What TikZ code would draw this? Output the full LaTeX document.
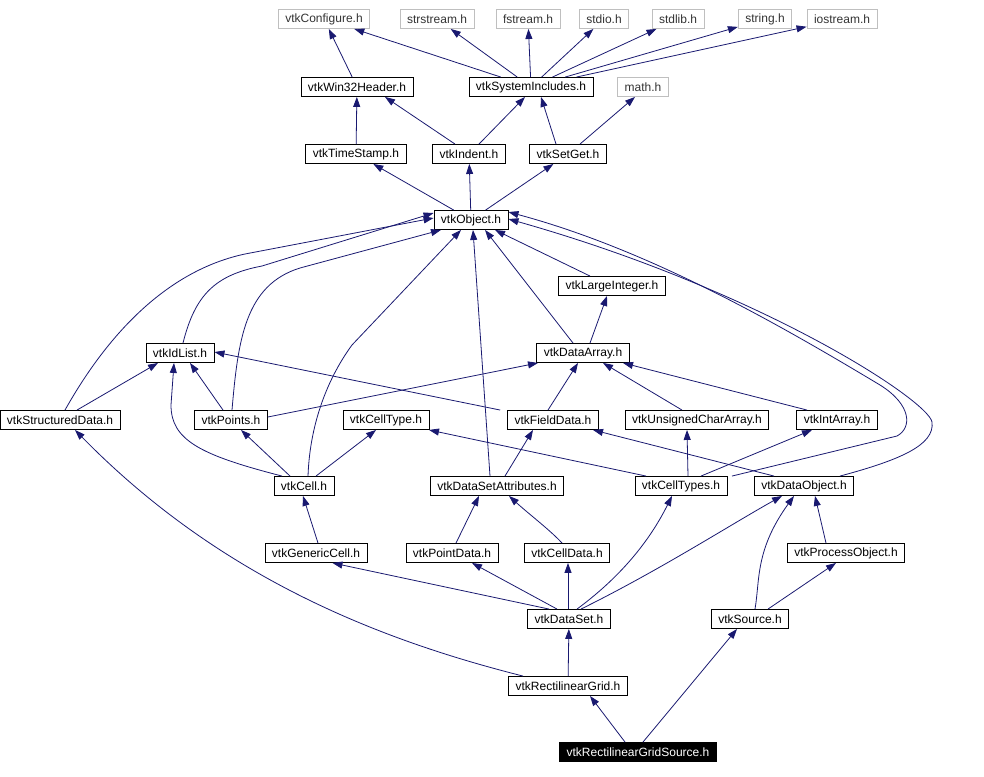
\documentclass[tikz,border=0pt]{standalone}
\usepackage{fontspec}
\setmainfont{Liberation Sans}
\usetikzlibrary{arrows.meta}

\definecolor{edgeblue}{RGB}{25,25,112}
\definecolor{sysgray}{RGB}{191,191,191}

\tikzset{
  hdr/.style={draw=black, line width=0.9pt, minimum height=19pt, inner xsep=7pt, inner ysep=0pt, font=\fontsize{12}{13}\selectfont},
  syshdr/.style={hdr, draw=sysgray, text=black!80},
  focus/.style={hdr, fill=black, text=white},
  dep/.style={->, draw=edgeblue, line width=0.8pt},
}

\begin{document}
\begin{tikzpicture}[x=1pt, y=-1pt, >={Triangle[length=10pt,width=7pt]}]
  \useasboundingbox (0,0) rectangle (984,776);

  % --- Systemheader ---
  \node[syshdr] (cfg)    at (324,19) {vtkConfigure.h};
  \node[syshdr] (strs)   at (437,19) {strstream.h};
  \node[syshdr] (fstr)   at (528,19) {fstream.h};
  \node[syshdr] (stdio)  at (604,19) {stdio.h};
  \node[syshdr] (stdlib) at (678,19) {stdlib.h};
  \node[syshdr] (string) at (765,19) {string.h};
  \node[syshdr] (iostr)  at (842,19) {iostream.h};

  % --- Basis ---
  \node[hdr]    (win)    at (357,87)  {vtkWin32Header.h};
  \node[hdr]    (sysinc) at (531,87)  {vtkSystemIncludes.h};
  \node[syshdr] (math)   at (643,87)  {math.h};
  \node[hdr]    (ts)     at (356,154) {vtkTimeStamp.h};
  \node[hdr]    (ind)    at (469,154) {vtkIndent.h};
  \node[hdr]    (setget) at (568,154) {vtkSetGet.h};
  \node[hdr]    (obj)    at (471,220) {vtkObject.h};

  % --- Datenklassen ---
  \node[hdr] (li)    at (612,286) {vtkLargeInteger.h};
  \node[hdr] (idl)   at (180,353) {vtkIdList.h};
  \node[hdr] (da)    at (583,353) {vtkDataArray.h};
  \node[hdr] (sd)    at (60,420)  {vtkStructuredData.h};
  \node[hdr] (pts)   at (231,420) {vtkPoints.h};
  \node[hdr] (ctype) at (386,420) {vtkCellType.h};
  \node[hdr] (fd)    at (553,420) {vtkFieldData.h};
  \node[hdr] (uca)   at (697,420) {vtkUnsignedCharArray.h};
  \node[hdr] (ia)    at (837,420) {vtkIntArray.h};
  \node[hdr] (cell)  at (304,486) {vtkCell.h};
  \node[hdr] (dsa)   at (497,486) {vtkDataSetAttributes.h};
  \node[hdr] (cts)   at (681,486) {vtkCellTypes.h};
  \node[hdr] (dobj)  at (804,486) {vtkDataObject.h};
  \node[hdr] (gc)    at (316,553) {vtkGenericCell.h};
  \node[hdr] (pd)    at (452,553) {vtkPointData.h};
  \node[hdr] (cd)    at (567,553) {vtkCellData.h};
  \node[hdr] (po)    at (846,553) {vtkProcessObject.h};
  \node[hdr] (ds)    at (569,619) {vtkDataSet.h};
  \node[hdr] (src)   at (750,619) {vtkSource.h};
  \node[hdr] (rg)    at (568,686) {vtkRectilinearGrid.h};
  \node[focus] (rgs) at (638,752) {vtkRectilinearGridSource.h};

  % --- Abhaengigkeiten oben ---
  \draw[dep] (win) -- (cfg);
  \foreach \t in {cfg,strs,fstr,stdio,stdlib,string,iostr}{
    \draw[dep] (sysinc) -- (\t);
  }
  \draw[dep] (ts) -- (win);
  \draw[dep] ([xshift=-14]ind.north) -- ([xshift=28]win.south);
  \draw[dep] ([xshift=10]ind.north) -- ([xshift=-6]sysinc.south);
  \draw[dep] ([xshift=-12]setget.north) -- ([xshift=10]sysinc.south);
  \draw[dep] ([xshift=12]setget.north) -- ([xshift=-8]math.south);
  \foreach \t in {ts,ind,setget}{
    \draw[dep] (obj) -- (\t);
  }

  % --- Kurven zu vtkObject ---
  \draw[dep] ([xshift=5]sd.north) .. controls (110,330) and (170,270) .. (245,254) -- ([yshift=2]obj.west);
  \draw[dep] ([xshift=3]idl.north) .. controls (195,295) and (215,275) .. (262,266) -- ([yshift=7]obj.west);
  \draw[dep] ([xshift=1]pts.north) .. controls (238,340) and (245,285) .. (300,268) -- ([xshift=-30]obj.south);
  \draw[dep] ([xshift=4]cell.north) .. controls (310,420) and (330,375) .. (352,345) -- ([xshift=-10]obj.south);
  \draw[dep] ([xshift=-7]dsa.north) -- ([xshift=2]obj.south);
  \draw[dep] ([xshift=-10]da.north) -- ([xshift=14]obj.south);
  \draw[dep] ([xshift=-22]li.north) -- ([xshift=24]obj.south);
  \draw[dep] ([xshift=51]cts.north) -- (897,436) .. controls (912,428) and (912,405) .. (880,385)
    .. controls (780,325) and (650,250) .. ([yshift=8]obj.east);
  \draw[dep] ([xshift=36]dobj.north) .. controls (900,460) and (935,445) .. (932,422)
    .. controls (928,400) and (760,290) .. ([yshift=1]obj.east);

  % --- Datenklassen ---
  \draw[dep] ([xshift=7]da.north) -- ([xshift=-5]li.south);
  \draw[dep] ([xshift=17]sd.north) -- ([xshift=-22]idl.south);
  \draw[dep] ([xshift=-8]pts.north) -- ([xshift=10]idl.south);
  \draw[dep] ([yshift=3]pts.east) -- ([xshift=-45]da.south);
  \draw[dep] ([xshift=-22]cell.north) .. controls (200,455) and (171,440) .. (171,405) -- ([xshift=-6]idl.south);
  \draw[dep] ([xshift=-14]cell.north) -- ([xshift=10]pts.south);
  \draw[dep] ([xshift=12]cell.north) -- ([xshift=-10]ctype.south);
  \draw[dep] ([xshift=-7]fd.north west) -- ([yshift=1]idl.east);
  \draw[dep] ([xshift=-5]fd.north) -- ([xshift=-5]da.south);
  \draw[dep] ([xshift=-15]uca.north) -- ([xshift=20]da.south);
  \draw[dep] ([xshift=-30]ia.north) -- ([xshift=40]da.south);
  \draw[dep] ([xshift=8]dsa.north) -- ([xshift=-20]fd.south);
  \draw[dep] ([xshift=-35]cts.north) -- ([xshift=43]ctype.south);
  \draw[dep] ([xshift=7]cts.north) -- ([xshift=-10]uca.south);
  \draw[dep] ([xshift=20]cts.north) -- ([xshift=-25]ia.south);
  \draw[dep] ([xshift=-30]dobj.north) -- ([xshift=40]fd.south);

  % --- untere Ebenen ---
  \draw[dep] ([xshift=2]gc.north) -- ([xshift=-1]cell.south);
  \draw[dep] ([xshift=4]pd.north) -- ([xshift=-18]dsa.south);
  \draw[dep] ([xshift=-5]cd.north) .. controls (550,530) and (530,515) .. ([xshift=12]dsa.south);
  \draw[dep] ([xshift=-20]po.north) -- ([xshift=11]dobj.south);
  \draw[dep] ([xshift=-20]ds.north) -- ([xshift=-35]gc.south east);
  \draw[dep] ([xshift=-12]ds.north) -- ([xshift=20]pd.south);
  \draw[dep] ([xshift=-1]ds.north) -- ([xshift=1]cd.south);
  \draw[dep] ([xshift=8]ds.north) .. controls (630,570) and (655,530) .. ([xshift=-9]cts.south);
  \draw[dep] ([xshift=12]ds.north) .. controls (660,570) and (730,525) .. ([xshift=-22]dobj.south);
  \draw[dep] ([xshift=5]src.north) .. controls (760,580) and (755,550) .. ([xshift=-10]dobj.south);
  \draw[dep] ([xshift=18]src.north) -- ([xshift=-10]po.south);
  \draw[dep] ([xshift=-45]rg.north) .. controls (380,640) and (220,578) .. ([xshift=15]sd.south);
  \draw[dep] (rg) -- (ds);
  \draw[dep] ([xshift=-13]rgs.north) -- ([xshift=22]rg.south);
  \draw[dep] ([xshift=5]rgs.north) -- ([xshift=-13]src.south);

\end{tikzpicture}
\end{document}
